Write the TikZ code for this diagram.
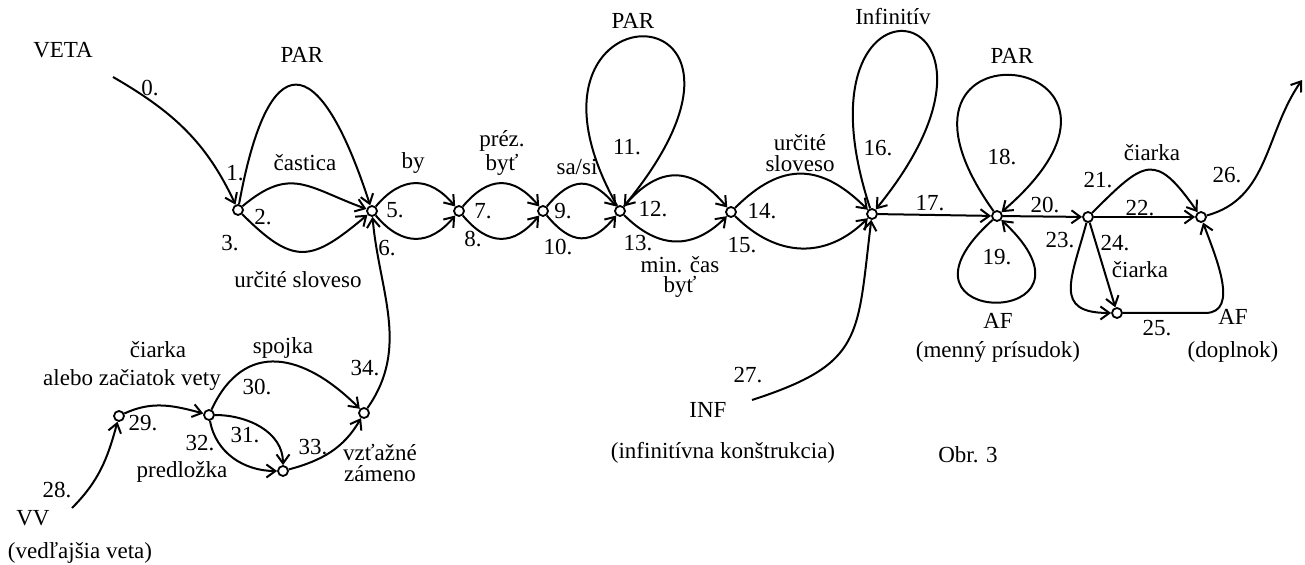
\documentclass[tikz,border=0pt]{standalone}
\usepackage{fontspec}
\setmainfont{Liberation Serif}
\usetikzlibrary{arrows.meta}
\begin{document}
\begin{tikzpicture}[x=0.5pt,y=0.5pt,
  st/.style={circle,draw,line width=0.9pt,minimum size=5pt,inner sep=0pt},
  lb/.style={inner sep=0pt,align=center,font=\fontsize{11.5}{10.2}\selectfont},
  ar/.style={line width=1pt,-{Straight Barb[length=4.5pt,width=6.5pt]}},
  ln/.style={line width=1pt}
]
\useasboundingbox (0,0) rectangle (1305,-565);
% states
\node[st] (n1) at (238,-210) {};
\node[st] (n5) at (372,-211) {};
\node[st] (n7) at (459,-211) {};
\node[st] (n9) at (543,-211) {};
\node[st] (n12) at (620,-211) {};
\node[st] (n14) at (731,-212) {};
\node[st] (n16) at (872,-214) {};
\node[st] (n18) at (997,-216) {};
\node[st] (n21) at (1088,-217) {};
\node[st] (n22) at (1201,-217) {};
\node[st] (n25) at (1117,-313) {};
\node[st] (n29) at (119,-416) {};
\node[st] (n30) at (209,-415) {};
\node[st] (n33) at (283,-471) {};
\node[st] (n34) at (364,-413) {};
% free ends
\coordinate (c0) at (113,-77);
\coordinate (c26) at (1302,-80);
\coordinate (c27) at (752,-400);
\coordinate (c28) at (72,-508);
\coordinate (c25) at (1205,-313);
% labels
\node[lb] (tveta) at (63,-50) {VETA};
\node[lb] (t0) at (150,-88) {0.};
\node[lb] (tpar1) at (302,-55) {PAR};
\node[lb] (t1) at (235,-173) {1.};
\node[lb] (tcast) at (305,-163) {častica};
\node[lb] (t2) at (263,-217) {2.};
\node[lb] (t3) at (230,-243) {3.};
\node[lb] (turc1) at (298,-280) {určité sloveso};
\node[lb] (tby) at (413,-163) {by};
\node[lb] (t5) at (395,-210) {5.};
\node[lb] (t6) at (387,-248) {6.};
\node[lb] (tprez) at (502,-153) {préz.\\byť};
\node[lb] (t7) at (483,-211) {7.};
\node[lb] (t8) at (473,-239) {8.};
\node[lb] (tsasi) at (577,-167) {sa/si};
\node[lb] (t9) at (563,-211) {9.};
\node[lb] (t10) at (558,-247) {10.};
\node[lb] (tpar2) at (633,-21) {PAR};
\node[lb] (t11) at (627,-147) {11.};
\node[lb] (t12) at (653,-209) {12.};
\node[lb] (t13) at (638,-243) {13.};
\node[lb] (tmin) at (680,-277) {min. čas\\byť};
\node[lb] (t14) at (762,-211) {14.};
\node[lb] (t15) at (742,-245) {15.};
\node[lb] (turc2) at (800,-153) {určité\\sloveso};
\node[lb] (tinf) at (893,-17) {Infinitív};
\node[lb] (t16) at (878,-148) {16.};
\node[lb] (t17) at (930,-203) {17.};
\node[lb] (tpar3) at (1012,-56) {PAR};
\node[lb] (t18) at (1002,-157) {18.};
\node[lb] (t19) at (997,-257) {19.};
\node[lb] (taf1) at (998,-321) {AF};
\node[lb] (tmenny) at (998,-352) {(menný prísudok)};
\node[lb] (t20) at (1045,-205) {20.};
\node[lb] (t21) at (1098,-180) {21.};
\node[lb] (tciar1) at (1152,-153) {čiarka};
\node[lb] (t22) at (1140,-208) {22.};
\node[lb] (t23) at (1060,-240) {23.};
\node[lb] (t24) at (1115,-243) {24.};
\node[lb] (tciar2) at (1140,-270) {čiarka};
\node[lb] (t25) at (1157,-328) {25.};
\node[lb] (taf2) at (1233,-317) {AF};
\node[lb] (tdopl) at (1233,-352) {(doplnok)};
\node[lb] (t26) at (1227,-175) {26.};
\node[lb] (t27) at (748,-375) {27.};
\node[lb] (tINF) at (708,-410) {INF};
\node[lb] (tinfk) at (723,-453) {(infinitívna konštrukcia)};
\node[lb] (tobr) at (968,-455) {Obr. 3};
\node[lb] (t34) at (365,-368) {34.};
\node[lb] (tciar3) at (158,-350) {čiarka};
\node[lb] (talebo) at (132,-380) {alebo začiatok vety};
\node[lb] (tspoj) at (283,-348) {spojka};
\node[lb] (t30) at (257,-387) {30.};
\node[lb] (t29) at (143,-423) {29.};
\node[lb] (t31) at (245,-435) {31.};
\node[lb] (t32) at (200,-443) {32.};
\node[lb] (tpred) at (182,-472) {predložka};
\node[lb] (t33) at (313,-447) {33.};
\node[lb] (tvzt) at (380,-463) {vzťažné\\zámeno};
\node[lb] (t28) at (57,-490) {28.};
\node[lb] (tVV) at (33,-518) {VV};
\node[lb] (tved) at (80,-553) {(vedľajšia veta)};
% edges
\draw[ar] (c0) to[out=-30,in=115] (n1);
\draw[ar] (n1) .. controls (268,-45) and (318,-45) .. (n5);
\draw[ar] (n1) to[out=40,in=160,looseness=1.3] (n5);
\draw[ar] (n1) to[out=-45,in=-140,looseness=1.5] (n5);
\draw[ar] (n5) to[out=50,in=130,looseness=1.3] (n7);
\draw[ar] (n5) to[out=-50,in=-130,looseness=1.3] (n7);
\draw[ar] (n7) to[out=50,in=130,looseness=1.35] (n9);
\draw[ar] (n7) to[out=-50,in=-130,looseness=1.35] (n9);
\draw[ar] (n9) to[out=50,in=130,looseness=1.45] (n12);
\draw[ar] (n9) to[out=-50,in=-130,looseness=1.45] (n12);
\draw[ar] (n12) .. controls (490,20) and (810,20) .. (n12);
\draw[ar] (n12) to[out=50,in=130,looseness=1.35] (n14);
\draw[ar] (n12) to[out=-45,in=-135,looseness=1.2] (n14);
\draw[ar] (n14) to[out=45,in=135,looseness=1.27] (n16);
\draw[ar] (n14) to[out=-45,in=-135,looseness=1.13] (n16);
\draw[ar] (n16) .. controls (785,50) and (1050,5) .. (n16);
\draw[ar] (c27) to[out=18,in=-97,looseness=1.4] (n16);
\draw[ar] (n16) -- (n18);
\draw[ar] (n18) .. controls (850,-10) and (1190,-50) .. (n18);
\draw[ar] (n18) .. controls (870,-330) and (1120,-330) .. (n18);
\draw[ar] (n18) -- (n21);
\draw[ar] (n21) to[out=45,in=125,looseness=1.8] (n22);
\draw[ar] (n21) -- (n22);
\draw[ar] (n21) to[out=-105,in=180,looseness=1.6] (n25);
\draw[ar] (n21) -- (n25);
\draw[ar] (n25) -- (c25) to[out=0,in=-70] (n22);
\draw[ar] (n22) to[out=15,in=-125] (c26);
\draw[ar] (c28) to[out=45,in=-105] (n29);
\draw[ar] (n29) to[out=25,in=165] (n30);
\draw[ar] (n30) to[out=65,in=135,looseness=1.35] (n34);
\draw[ar] (n30) to[out=0,in=90] (n33);
\draw[ar] (n30) to[out=-80,in=180] (n33);
\draw[ar] (n33) to[out=15,in=-120] (n34);
\draw[ar] (n34) to[out=55,in=-85] (n5);
\end{tikzpicture}
\end{document}
